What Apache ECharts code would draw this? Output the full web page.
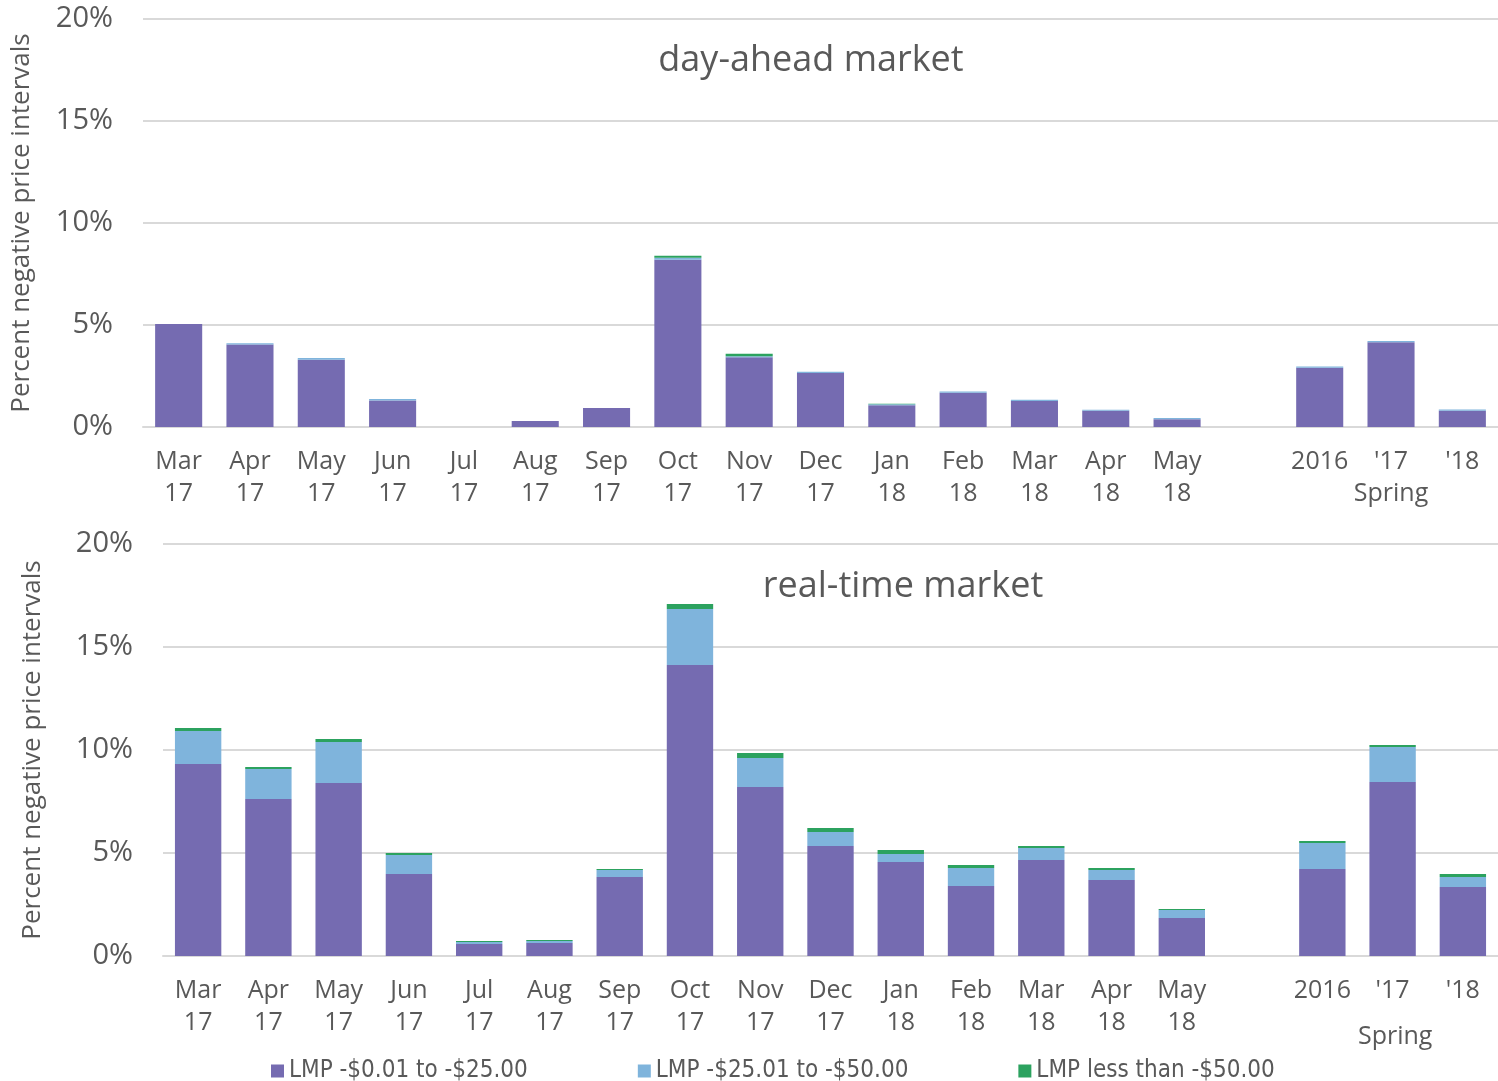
<!DOCTYPE html>
<html><head><meta charset="utf-8">
<script src="https://cdn.jsdelivr.net/npm/echarts@6/dist/echarts.min.js"></script>
<style>html,body{margin:0;padding:0;background:#fff}#c{width:1498px;height:1081px}</style>
</head><body><div id="c"></div>
<script>
const categories = ['Mar\n17','Apr\n17','May\n17','Jun\n17','Jul\n17','Aug\n17','Sep\n17','Oct\n17','Nov\n17','Dec\n17','Jan\n18','Feb\n18','Mar\n18','Apr\n18','May\n18','','2016',"'17",'\'18'];
const yTicks = [0,5,10,15,20];
const seriesNames = ['LMP -$0.01 to -$25.00','LMP -$25.01 to -$50.00','LMP less than -$50.00'];
// day-ahead market
const daLow  = [5.05,4.05,3.30,1.30,0,0.30,0.93,8.20,3.42,2.65,1.07,1.68,1.28,0.80,0.38,null,2.90,4.15,0.80];
const daMid  = [0,0.06,0.08,0.07,0,0,0,0.10,0.05,0.06,0.04,0.06,0.06,0.05,0.06,null,0.06,0.06,0.06];
const daHigh = [0,0,0,0,0,0,0,0.10,0.12,0,0.03,0,0,0,0,null,0,0,0];
// real-time market
const rtLow  = [9.32,7.62,8.40,3.98,0.58,0.63,3.83,14.13,8.20,5.34,4.56,3.40,4.66,3.69,1.84,null,4.22,8.45,3.35];
const rtMid  = [1.60,1.46,1.99,0.92,0.10,0.10,0.34,2.71,1.41,0.68,0.39,0.87,0.58,0.48,0.39,null,1.27,1.70,0.48];
const rtHigh = [0.15,0.09,0.14,0.10,0.05,0.05,0.05,0.25,0.24,0.19,0.20,0.15,0.10,0.10,0.05,null,0.09,0.09,0.15];

const colors = ['#756bb1','#7fb4dc','#2ca25f'];
const FONT = '"Open Sans"';
const GRAY = '#595959';

function xAxis(gridIndex, springInLabel){
  return {
    type:'category', gridIndex, data:categories,
    axisLine:{show:true,lineStyle:{color:'#d9d9d9',width:2}},
    axisTick:{show:false},
    axisLabel:{
      interval:0, color:GRAY, fontFamily:FONT, fontSize:25, lineHeight:32, margin:19,
      formatter: v => (v==="'17" && springInLabel) ? "'17\nSpring" : v
    }
  };
}
function yAxis(gridIndex, nameGap){
  return {
    type:'value', gridIndex, min:0, max:20, interval:5,
    axisLine:{show:false}, axisTick:{show:false},
    splitLine:{lineStyle:{color:'#d9d9d9',width:2}},
    axisLabel:{color:GRAY, fontFamily:FONT, fontSize:29, margin:30,
      formatter: v => yTicks.includes(v) ? v + '%' : ''},
    name:'Percent negative price intervals', nameLocation:'middle', nameGap,
    nameTextStyle:{color:GRAY, fontFamily:FONT, fontSize:26}
  };
}
function bars(data, idx, axis){
  return {
    name:seriesNames[idx], type:'bar', stack:'s'+axis, xAxisIndex:axis, yAxisIndex:axis,
    data, barWidth:'66%', itemStyle:{color:colors[idx]}
  };
}

const chart = echarts.init(document.getElementById('c'));
chart.setOption({
  animation:false,
  color:colors,
  title:[
    {text:'day-ahead market', left:806, top:38, textAlign:'center',
      textStyle:{color:GRAY,fontFamily:FONT,fontSize:36,fontWeight:'normal'}},
    {text:'real-time market', left:898, top:564, textAlign:'center',
      textStyle:{color:GRAY,fontFamily:FONT,fontSize:36,fontWeight:'normal'}}
  ],
  grid:[
    {left:143, top:19, width:1357, height:408},
    {left:163, top:544, width:1336, height:412}
  ],
  xAxis:[xAxis(0,true), xAxis(1,false)],
  yAxis:[yAxis(0,108), yAxis(1,117)],
  legend:{
    data:seriesNames, top:1054, left:266, itemGap:110, itemWidth:13, itemHeight:13,
    icon:'rect', textStyle:{color:GRAY, fontFamily:'"DejaVu Sans Condensed","Liberation Sans"', fontSize:24}
  },
  graphic:[{type:'text', left:1358, top:1024,
    style:{text:'Spring', fill:GRAY, font:'25px "Open Sans"'}}],
  series:[
    bars(daLow,0,0), bars(daMid,1,0), bars(daHigh,2,0),
    bars(rtLow,0,1), bars(rtMid,1,1), bars(rtHigh,2,1)
  ]
});
</script></body></html>
